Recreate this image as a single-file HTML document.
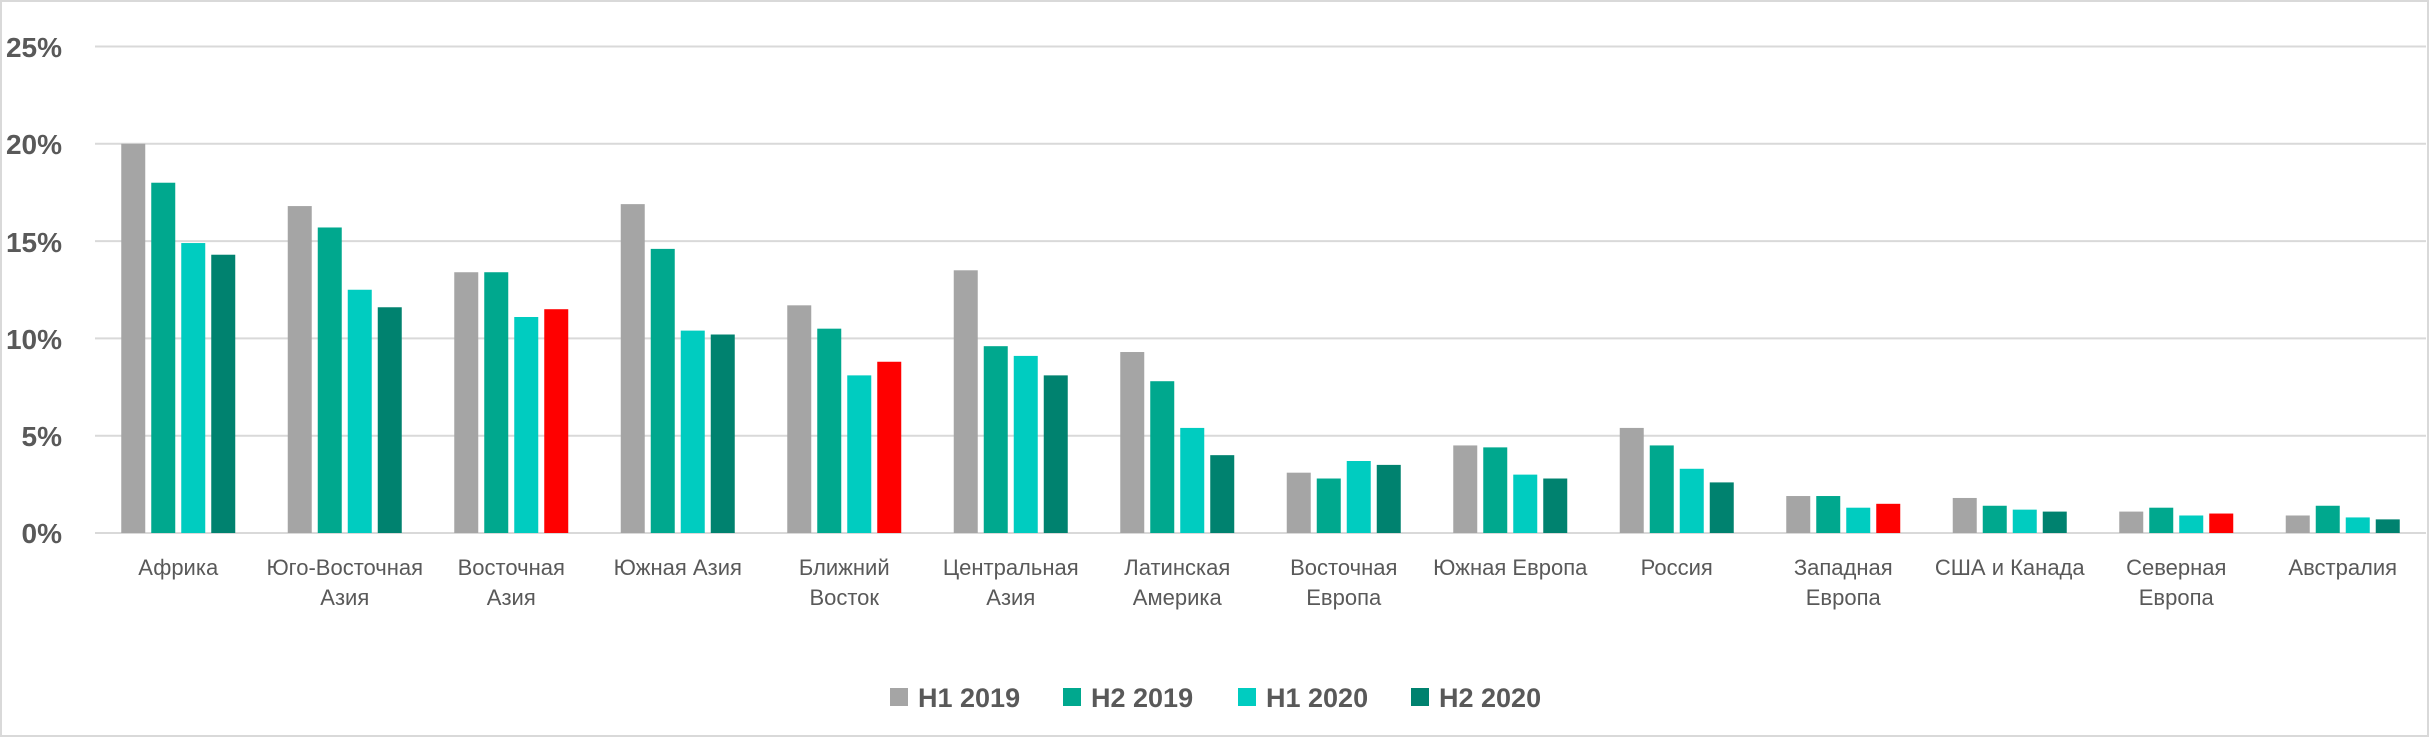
<!DOCTYPE html>
<html><head><meta charset="utf-8"><style>
html,body{margin:0;padding:0;background:#fff;}
svg{display:block;}
text{font-family:"Liberation Sans Narrow","Liberation Sans",sans-serif;fill:#595959;}
</style></head><body>
<svg width="2429" height="737" viewBox="0 0 2429 737" xmlns="http://www.w3.org/2000/svg">
<rect x="1" y="1" width="2427" height="735" fill="#fff" stroke="#d9d9d9" stroke-width="2"/>
<g stroke="#d9d9d9" stroke-width="2">
<line x1="95" x2="2426" y1="46.5" y2="46.5"/>
<line x1="95" x2="2426" y1="143.8" y2="143.8"/>
<line x1="95" x2="2426" y1="241.1" y2="241.1"/>
<line x1="95" x2="2426" y1="338.4" y2="338.4"/>
<line x1="95" x2="2426" y1="435.7" y2="435.7"/>
<line x1="95" x2="2426" y1="533" y2="533"/>
</g>
<g font-family="Liberation Sans" font-weight="bold" font-size="28" text-anchor="end" style="font-family:'Liberation Sans',sans-serif">
<text x="62" y="57">25%</text>
<text x="62" y="154">20%</text>
<text x="62" y="252">15%</text>
<text x="62" y="349">10%</text>
<text x="62" y="446">5%</text>
<text x="62" y="543">0%</text>
</g>
<g id="bars"></g>
<g id="labels" font-size="22" text-anchor="middle"></g>
<g font-size="27" font-weight="bold">
<rect x="890" y="688" width="18" height="18" fill="#a5a5a5"/><text x="918" y="707">H1 2019</text>
<rect x="1063" y="688" width="18" height="18" fill="#00a88e"/><text x="1091" y="707">H2 2019</text>
<rect x="1238" y="688" width="18" height="18" fill="#00ccc0"/><text x="1266" y="707">H1 2020</text>
<rect x="1411" y="688" width="18" height="18" fill="#00826f"/><text x="1439" y="707">H2 2020</text>
</g>
<script>
var d=[["Африка",[20,18,14.9,14.3],0],["Юго-Восточная|Азия",[16.8,15.7,12.5,11.6],0],["Восточная|Азия",[13.4,13.4,11.1,11.5],1],["Южная Азия",[16.9,14.6,10.4,10.2],0],["Ближний|Восток",[11.7,10.5,8.1,8.8],1],["Центральная|Азия",[13.5,9.6,9.1,8.1],0],["Латинская|Америка",[9.3,7.8,5.4,4.0],0],["Восточная|Европа",[3.1,2.8,3.7,3.5],0],["Южная Европа",[4.5,4.4,3.0,2.8],0],["Россия",[5.4,4.5,3.3,2.6],0],["Западная|Европа",[1.9,1.9,1.3,1.5],1],["США и Канада",[1.8,1.4,1.2,1.1],0],["Северная|Европа",[1.1,1.3,0.9,1.0],1],["Австралия",[0.9,1.4,0.8,0.7],0]];
var cols=["#a5a5a5","#00a88e","#00ccc0","#00826f"],ns="http://www.w3.org/2000/svg";
var B=document.getElementById("bars"),L=document.getElementById("labels");
var gw=(2426-95)/14;
d.forEach(function(g,i){var c=95+gw*(i+0.5);
g[1].forEach(function(v,j){var h=v*19.46;var r=document.createElementNS(ns,"rect");
r.setAttribute("x",c-57+30*j);r.setAttribute("width",24);r.setAttribute("y",533-h);r.setAttribute("height",h);
r.setAttribute("fill",(j==3&&g[2])?"#ff0000":cols[j]);B.appendChild(r);});
g[0].split("|").forEach(function(s,k){var t=document.createElementNS(ns,"text");t.setAttribute("x",c);t.setAttribute("y",575+30*k);t.textContent=s;L.appendChild(t);});
});
</script>
</svg>
</body></html>
